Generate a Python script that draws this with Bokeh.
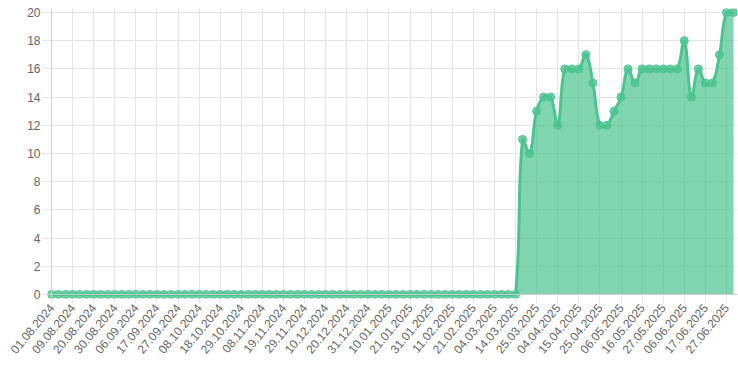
import math
import numpy as np
from bokeh.plotting import figure
from bokeh.models import Range1d, FixedTicker, Span
from bokeh.embed import file_html
from bokeh.resources import INLINE

# ---- data -------------------------------------------------------------
tick_labels = [
    "01.08.2024", "09.08.2024", "20.08.2024", "30.08.2024", "06.09.2024",
    "17.09.2024", "27.09.2024", "08.10.2024", "18.10.2024", "29.10.2024",
    "08.11.2024", "19.11.2024", "29.11.2024", "10.12.2024", "20.12.2024",
    "31.12.2024", "10.01.2025", "21.01.2025", "31.01.2025", "11.02.2025",
    "21.02.2025", "04.03.2025", "14.03.2025", "25.03.2025", "04.04.2025",
    "15.04.2025", "25.04.2025", "06.05.2025", "16.05.2025", "27.05.2025",
    "06.06.2025", "17.06.2025", "27.06.2025",
]
label_step = 3  # one visible label every third data point

zero_values = [0] * 67
active_values = [11, 10, 13, 14, 14, 12, 16, 16, 16, 17, 15, 12, 12, 13, 14,
                 16, 15, 16, 16, 16, 16, 16, 16, 18, 14, 16, 15, 15, 17, 20, 20]
values = zero_values + active_values
idx = list(range(len(values)))

y_ticks = [0, 2, 4, 6, 8, 10, 12, 14, 16, 18, 20]

# ---- layout -----------------------------------------------------------
W, H = 738, 371
left, right, top, bottom = 51, 733, 12, 294
pad = 4
n = len(values)
px_x = (right - left) / (n - 1)
px_y = (bottom - top) / 20.0

line_color = "#4bc490"

p = figure(width=W, height=H, output_backend="svg", toolbar_location=None,
           x_range=Range1d(-pad / px_x, (n - 1) + pad / px_x),
           y_range=Range1d(-pad / px_y, 20 + pad / px_y),
           min_border_left=left - pad, min_border_right=W - right - pad,
           min_border_top=top - pad, min_border_bottom=H - bottom - pad)
p.outline_line_color = None
p.background_fill_color = "white"

# ---- Chart.js-like spline (tension 0.4) -------------------------------
xs = np.array(idx, dtype=float) * px_x
ys = -np.array(values, dtype=float) * px_y
t = 0.4
cp_prev = []
cp_next = []
for i in range(n):
    fx, fy = (xs[i - 1], ys[i - 1]) if i > 0 else (xs[i], ys[i])
    mx, my = xs[i], ys[i]
    ax, ay = (xs[i + 1], ys[i + 1]) if i < n - 1 else (xs[i], ys[i])
    d01 = math.hypot(mx - fx, my - fy)
    d12 = math.hypot(ax - mx, ay - my)
    s = d01 + d12
    s01 = d01 / s if s else 0
    s12 = d12 / s if s else 0
    fa, fb = t * s01, t * s12
    pxp, pyp = mx - fa * (ax - fx), my - fa * (ay - fy)
    pxn, pyn = mx + fb * (ax - fx), my + fb * (ay - fy)
    lo_y, hi_y = -20 * px_y, 0
    pxp = min(max(pxp, 0), xs[-1]); pxn = min(max(pxn, 0), xs[-1])
    pyp = min(max(pyp, lo_y), hi_y); pyn = min(max(pyn, lo_y), hi_y)
    cp_prev.append((pxp, pyp))
    cp_next.append((pxn, pyn))

cx, cy = [], []
ts = np.linspace(0, 1, 14)
for i in range(n - 1):
    p0 = np.array([xs[i], ys[i]])
    p1 = np.array(cp_next[i])
    p2 = np.array(cp_prev[i + 1])
    p3 = np.array([xs[i + 1], ys[i + 1]])
    for k, tt in enumerate(ts):
        if i > 0 and k == 0:
            continue
        b = ((1 - tt) ** 3) * p0 + 3 * ((1 - tt) ** 2) * tt * p1 + \
            3 * (1 - tt) * tt ** 2 * p2 + tt ** 3 * p3
        cx.append(b[0] / px_x)
        cy.append(-b[1] / px_y)

p.varea(x=cx, y1=[0] * len(cx), y2=cy, fill_color=line_color, fill_alpha=0.7)
p.line(cx, cy, line_color=line_color, line_width=3)
p.scatter(idx, values, size=8, fill_color=line_color, fill_alpha=0.8,
          line_color=line_color, line_width=1)

# ---- axes -------------------------------------------------------------
label_pos = list(range(0, n, label_step))[:len(tick_labels)]
p.xaxis.ticker = FixedTicker(ticks=label_pos)
p.xaxis.major_label_overrides = {pos: lab for pos, lab in zip(label_pos, tick_labels)}
p.xaxis.major_label_orientation = math.radians(50)
p.yaxis.ticker = FixedTicker(ticks=y_ticks)

for ax in (p.xaxis[0], p.yaxis[0]):
    ax.axis_line_color = None
    ax.major_tick_line_color = "#e5e5e5"
    ax.major_tick_in = 0
    ax.major_tick_out = 5
    ax.minor_tick_line_color = None
    ax.major_label_text_font = "Liberation Sans"
    ax.major_label_text_font_size = "12px"
    ax.major_label_text_color = "#666666"
    ax.major_label_standoff = 2

p.xgrid.grid_line_color = "#e5e5e5"
p.ygrid.grid_line_color = "#e5e5e5"

p.add_layout(Span(location=0, dimension="height", line_color="#cfcfcf", line_width=1))
p.add_layout(Span(location=0, dimension="width", line_color="#cfcfcf", line_width=1))

open("out.html", "w").write(file_html(p, INLINE))
